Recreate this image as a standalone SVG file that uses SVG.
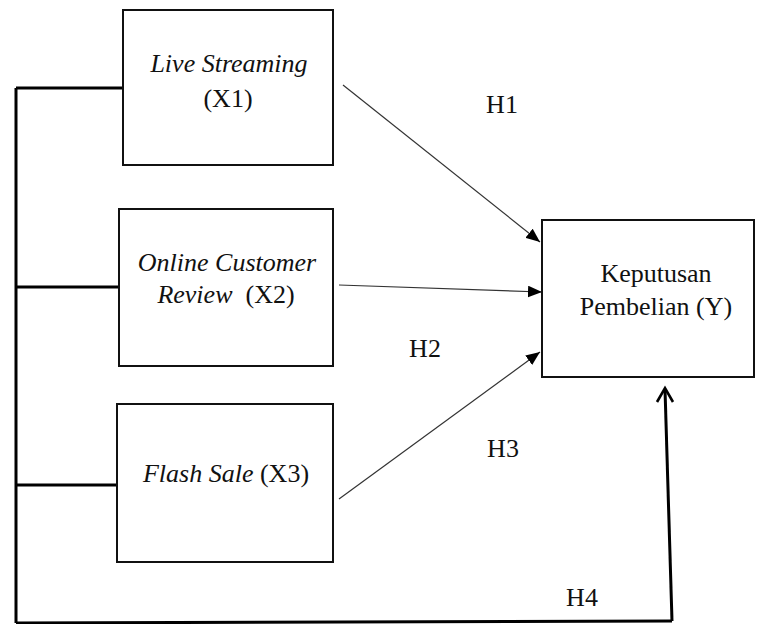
<svg xmlns="http://www.w3.org/2000/svg" width="759" height="624" viewBox="0 0 759 624">
<style>
.box{fill:#fff;stroke:#111;stroke-width:2}
text{font-family:'Liberation Serif','Times New Roman','DejaVu Serif',serif;font-size:26px;fill:#111;text-anchor:middle}
.i{font-style:italic}
.thin{stroke:#333;stroke-width:1.2;fill:none}
.thick{stroke:#000;stroke-width:3;fill:none}
.head{stroke:#000;stroke-width:2.6;fill:none;stroke-linejoin:miter}
</style>
<defs>
<marker id="tri" viewBox="0 0 12 10" refX="12" refY="5" markerWidth="14" markerHeight="12" markerUnits="userSpaceOnUse" orient="auto">
<path d="M0,0 L12,5 L0,10 Z" fill="#000"/>
</marker>
</defs>
<g id="connectors">
<path class="thick" d="M16,88 L123,88 M16,88 L16,623 M16,287 L119,287 M16,485 L117,485 M16,623 L672,621"/>
<path class="thick" d="M672,621 L665,389"/>
<path class="head" d="M657,402 L665,388 L673,402"/>
<path class="thin" d="M343,85 L540,242" marker-end="url(#tri)"/>
<path class="thin" d="M339,285 L542,292" marker-end="url(#tri)"/>
<path class="thin" d="M339,499 L540,352" marker-end="url(#tri)"/>
</g>
<g id="x1">
<rect class="box" x="123" y="10" width="210" height="155"/>
<text class="i" x="229" y="72">Live Streaming</text>
<text x="228" y="107">(X1)</text>
</g>
<g id="x2">
<rect class="box" x="119" y="209" width="214" height="157"/>
<text class="i" x="227" y="271">Online Customer</text>
<text x="226" y="303"><tspan class="i">Review</tspan>&#160; (X2)</text>
</g>
<g id="x3">
<rect class="box" x="117" y="404" width="216" height="158"/>
<text x="226" y="482"><tspan class="i">Flash Sale</tspan> (X3)</text>
</g>
<g id="y">
<rect class="box" x="542" y="220" width="212" height="157"/>
<text x="656" y="282">Keputusan</text>
<text x="656" y="315">Pembelian (Y)</text>
</g>
<g id="labels">
<text x="502" y="113">H1</text>
<text x="425" y="357">H2</text>
<text x="503" y="457">H3</text>
<text x="582" y="606">H4</text>
</g>
</svg>
